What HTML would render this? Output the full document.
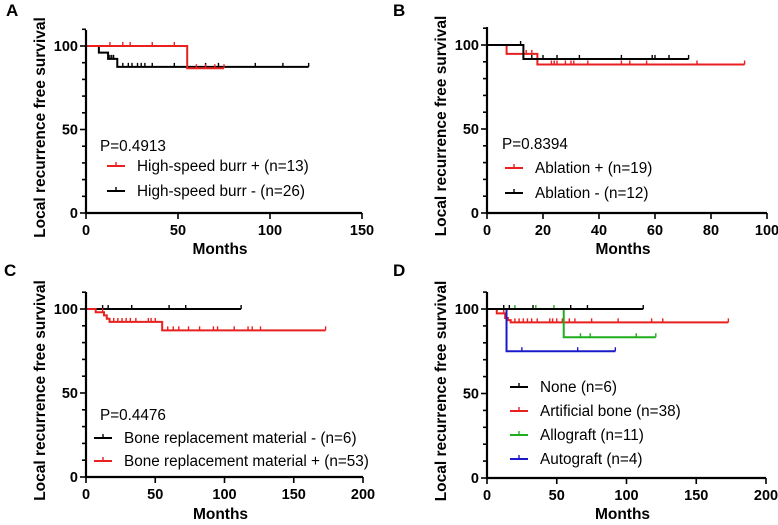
<!DOCTYPE html>
<html><head><meta charset="utf-8"><style>
body{margin:0;background:#fff;}
svg{display:block;font-family:"Liberation Sans",Arial,sans-serif;}
.tk{font-size:14.5px;font-weight:bold;}
.ttl{font-size:15.5px;font-weight:bold;}
.lg{font-size:15.3px;}
.pl{font-size:17px;font-weight:bold;}
</style></head><body>
<svg id="c" width="778" height="525"></svg>
<script>
// Panel A
const aRedT=[0,55,75], aRedS=[100,86.7,86.7], aRedC=[13,20,24,36,48,60,65,70,75];
const aBlkT=[0,7,12,17,121], aBlkS=[100,96,92.3,87.5,87.5], aBlkC=[13,14,15,20,23,25,28,30,32,36,48,55,65,72,92,107,121];
// Panel B
const bRedT=[0,7,18,92], bRedS=[100,94.7,88.4,88.4], bRedC=[13,14,16,23,24,25,28,30,31,36,48,51,57,75,92];
const bBlkT=[0,13,72], bBlkS=[100,91.7,91.7], bBlkC=[12,16,20,25,33,48,59,60,65,72];
// Panel C
const cBlkT=[0,112], cBlkS=[100,100], cBlkC=[12,16,33,60,72,112];
const cRedT=[0,7,13,15,17,55,173], cRedS=[100,98.1,96.2,94.2,92.3,87.3,87.3], cRedC=[12,20,23,26,29,32,36,45,47,50,59,63,67,74,82,92,95,107,117,120,126,173];
// Panel D
const dBlkT=[0,112], dBlkS=[100,100], dBlkC=[12,16,33,60,72,112];
const dRedT=[0,7,13,15,17,173], dRedS=[100,97.4,94.7,93.4,92.1,92.1], dRedC=[12,20,23,26,29,32,36,45,47,50,54,59,63,75,94,118,126,173];
const dGrnT=[0,55,121], dGrnS=[100,83.3,83.3], dGrnC=[20,35,48,67,74,107,121];
const dBluT=[0,14,92], dBluS=[100,75,75], dBluC=[25,65,92];

const NS="http://www.w3.org/2000/svg";
const svg=document.getElementById('c');
function mk(tag,attrs,parent,txt){const e=document.createElementNS(NS,tag);for(const k in attrs)e.setAttribute(k,attrs[k]);if(txt!==undefined)e.textContent=txt;(parent||svg).appendChild(e);return e;}

const panels=[
 {id:'a',letter:'A',lx:6,ly:16,x0:86,x1:362,xmax:150,xstep:50,y0:213,y100:46,ytop:30,ytx:40,mY:254,
  p:'P=0.4913',px:100,py:151,legX:107,legY:[166,191],
  series:[{n:'High-speed burr + (n=13)',col:'#e8201f',T:aRedT,S:aRedS,C:aRedC},{n:'High-speed burr - (n=26)',col:'#000',T:aBlkT,S:aBlkS,C:aBlkC}],draw:[1,0]},
 {id:'b',letter:'B',lx:393,ly:16,x0:487,x1:767,xmax:100,xstep:20,y0:213,y100:45,ytop:27,ytx:441,mY:254,
  p:'P=0.8394',px:502,py:149,legX:505,legY:[168,193],
  series:[{n:'Ablation + (n=19)',col:'#e8201f',T:bRedT,S:bRedS,C:bRedC},{n:'Ablation - (n=12)',col:'#000',T:bBlkT,S:bBlkS,C:bBlkC}],draw:[0,1]},
 {id:'c',letter:'C',lx:4,ly:276,x0:86,x1:363,xmax:200,xstep:50,y0:477,y100:309,ytop:292,ytx:40,mY:519,
  p:'P=0.4476',px:100,py:420,legX:94,legY:[438,461],
  series:[{n:'Bone replacement material - (n=6)',col:'#000',T:cBlkT,S:cBlkS,C:cBlkC},{n:'Bone replacement material + (n=53)',col:'#e8201f',T:cRedT,S:cRedS,C:cRedC}],draw:[0,1]},
 {id:'d',letter:'D',lx:393,ly:276,x0:487,x1:766,xmax:200,xstep:50,y0:478,y100:309,ytop:292,ytx:441,mY:519,
  p:null,legX:510,legY:[387,411,435,459],
  series:[{n:'None (n=6)',col:'#000',T:dBlkT,S:dBlkS,C:dBlkC},{n:'Artificial bone (n=38)',col:'#e8201f',T:dRedT,S:dRedS,C:dRedC},{n:'Allograft (n=11)',col:'#1fae1f',T:dGrnT,S:dGrnS,C:dGrnC},{n:'Autograft (n=4)',col:'#1a1acc',T:dBluT,S:dBluS,C:dBluC}],draw:[1,2,3,0]}
];

function survAt(T,S,t){let v=S[0];for(let i=0;i<T.length;i++){if(T[i]<=t)v=S[i];}return v;}

panels.forEach(P=>{
 const g=mk('g',{});
 
 
 const xs=v=>P.x0+(P.x1-P.x0)*v/P.xmax;
 const ys=v=>P.y0-(P.y0-P.y100)*v/100;
 const L=mk('text',{x:P.lx,y:P.ly,class:'pl'},g,P.letter);
 
 
 P.draw.forEach(si=>{
  const s=P.series[si];
  let d='M'+xs(s.T[0])+','+ys(s.S[0]);
  for(let i=1;i<s.T.length;i++){d+=' H'+xs(s.T[i])+' V'+ys(s.S[i]);}
  const pth=mk('path',{d:d,fill:'none',stroke:s.col,'stroke-width':2},g);
  
  
  s.C.forEach(t=>{
   const y=ys(survAt(s.T,s.S,t));
   const c=mk('line',{x1:xs(t),x2:xs(t),y1:y-4,y2:y,stroke:s.col,'stroke-width':1.4},g);
   
   
  });
 });
 const ax=mk('path',{d:`M${P.x0},${P.ytop} V${P.y0} H${P.x1}`,fill:'none',stroke:'#000','stroke-width':2.2},g);
 
 
 for(let v=0;v<=110;v+=10){
  const major=v%50===0;
  mk('line',{x1:P.x0-(major?6:4),x2:P.x0,y1:ys(v),y2:ys(v),stroke:'#000','stroke-width':1.6},g);
  if(major){const t=mk('text',{x:P.x0-8,y:ys(v)+5,'text-anchor':'end',class:'tk'},g,String(v));
   }
 }
 for(let v=0;v<=P.xmax;v+=P.xstep){
  mk('line',{x1:xs(v),x2:xs(v),y1:P.y0,y2:P.y0+6,stroke:'#000','stroke-width':1.6},g);
  const t=mk('text',{x:xs(v),y:P.y0+22,'text-anchor':'middle',class:'tk'},g,String(v));
  
 }
 const yt=mk('text',{x:0,y:0,transform:`translate(${P.ytx+5},${(P.ytop+P.y0)/2+6}) rotate(-90)`,'text-anchor':'middle',class:'ttl'},g,'Local recurrence free survival');
 
 const xt=mk('text',{x:(P.x0+P.x1)/2-4,y:P.mY,'text-anchor':'middle',class:'ttl'},g,'Months');
 
 if(P.p){const pt=mk('text',{x:P.px,y:P.py,class:'lg'},g,P.p);
  }
 P.series.forEach((s,i)=>{
  const y=P.legY[i];
  const lg=mk('g',{},g);
  
  
  mk('line',{x1:P.legX,x2:P.legX+18,y1:y,y2:y,stroke:s.col,'stroke-width':2},lg);
  mk('line',{x1:P.legX+9,x2:P.legX+9,y1:y-4,y2:y,stroke:s.col,'stroke-width':1.4},lg);
  mk('text',{x:P.legX+30,y:y+5,class:'lg'},lg,s.n);
 });
});
</script>
</body></html>
